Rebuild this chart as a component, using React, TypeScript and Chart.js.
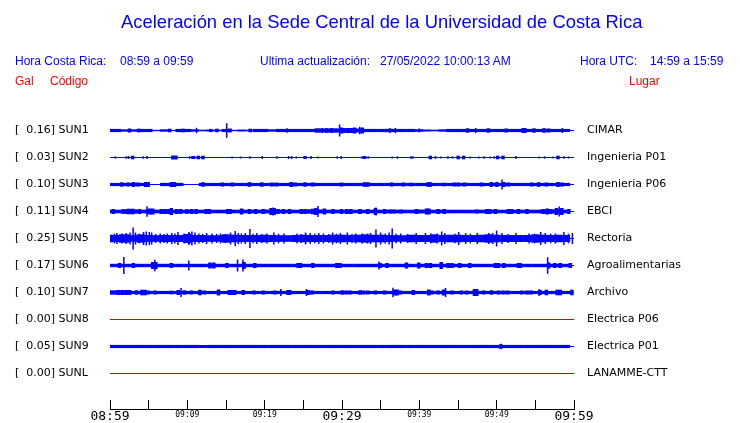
import { useEffect, useRef } from "react";
import { Chart, registerables } from "chart.js";

Chart.register(...registerables);

// ---------------- data ----------------
const stationCodes = ["SUN1", "SUN2", "SUN3", "SUN4", "SUN5", "SUN6", "SUN7", "SUN8", "SUN9", "SUNL"];
const stationPeaks = [0.16, 0.03, 0.1, 0.11, 0.25, 0.17, 0.1, 0.0, 0.05, 0.0];
const stationPlaces = [
  "CIMAR",
  "Ingenieria P01",
  "Ingenieria P06",
  "EBCI",
  "Rectoria",
  "Agroalimentarias",
  "Archivo",
  "Electrica P06",
  "Electrica P01",
  "LANAMME-CTT",
];
const stationOnline = [true, true, true, true, true, true, true, false, true, false];

// minutes since 08:59 (0..60), tick every 5 min
const timeTickLabels = ["08:59", "", "09:09", "", "09:19", "", "09:29", "", "09:39", "", "09:49", "", "09:59"];
const majorTickLabels = ["08:59", "09:29", "09:59"];

// envelope half-amplitude per minute (display units)
const sun1Envelope = [
  1.6, 1.6, 1.2, 1.2, 1.6, 1.6, 0.7, 1.2, 0.6, 1.6, 1.6, 1.2, 0.8, 1.0, 0.8, 1.6, 0.7, 1.0, 0.8, 1.6,
  1.6, 1.2, 1.6, 1.6, 1.6, 1.6, 1.6, 2.2, 2.0, 2.2, 1.8, 2.5, 2.0, 1.6, 1.6, 1.6, 1.7, 1.6, 1.6, 1.6,
  1.3, 1.0, 0.8, 1.2, 1.6, 1.6, 1.6, 1.6, 1.6, 1.6, 1.6, 1.6, 1.6, 1.6, 1.6, 1.6, 1.6, 1.6, 1.6, 1.6,
];
const sun3Envelope = [
  1.6, 1.6, 1.6, 1.6, 1.6, 0.0, 0.0, 1.6, 1.6, 1.6, 0.0, 0.0, 1.6, 1.6, 1.6, 1.6, 1.6, 1.6, 1.6, 1.6,
  1.6, 1.6, 1.6, 1.6, 1.6, 1.6, 1.6, 1.6, 1.6, 1.6, 1.6, 1.6, 1.6, 1.6, 1.6, 1.6, 1.6, 1.6, 1.6, 1.6,
  1.6, 1.6, 1.6, 1.6, 1.6, 1.6, 1.6, 1.6, 1.6, 1.6, 1.6, 1.6, 1.6, 1.6, 1.6, 1.6, 1.6, 1.6, 1.6, 1.6,
];
const sun4Envelope = [
  1.8, 1.8, 2.4, 2.2, 1.8, 2.0, 1.8, 2.0, 1.8, 1.8, 1.8, 1.8, 1.8, 1.8, 1.8, 1.8, 1.8, 1.8, 1.8, 1.8,
  2.0, 1.8, 1.8, 1.8, 1.8, 1.8, 2.2, 2.0, 1.8, 1.8, 1.8, 1.8, 1.8, 1.8, 1.8, 1.8, 1.8, 1.8, 1.8, 1.8,
  2.0, 1.8, 1.8, 1.8, 1.8, 1.8, 1.8, 1.8, 1.8, 1.8, 1.8, 1.8, 1.8, 1.8, 1.8, 1.8, 2.0, 2.2, 2.0, 1.8,
];
const sun5Envelope = [
  3.8, 3.5, 4.2, 3.3, 4.2, 3.5, 3.3, 3.5, 3.5, 3.5, 4.5, 3.5, 3.5, 3.3, 3.3, 4.2, 3.8, 3.5, 3.5, 3.5,
  3.8, 3.5, 3.3, 3.3, 3.5, 3.8, 3.5, 3.5, 3.5, 3.8, 3.8, 3.5, 3.8, 4.2, 3.8, 3.8, 3.5, 3.3, 3.3, 3.8,
  3.5, 3.5, 4.2, 3.5, 3.8, 3.8, 3.5, 3.5, 3.8, 4.2, 3.8, 3.5, 3.5, 3.5, 3.5, 4.2, 3.8, 3.5, 3.8, 3.5,
];
const sun6Envelope = [
  1.7, 1.7, 1.7, 1.7, 1.7, 1.7, 1.7, 1.7, 1.7, 1.7, 1.7, 1.7, 1.7, 1.7, 1.7, 1.7, 1.7, 1.7, 1.7, 1.7,
  1.7, 1.7, 1.7, 1.7, 1.7, 1.7, 1.7, 1.7, 1.7, 1.7, 1.7, 1.7, 1.7, 1.7, 1.7, 1.7, 1.7, 1.7, 1.7, 1.7,
  1.7, 1.7, 1.7, 1.7, 1.7, 1.7, 1.7, 1.7, 1.7, 1.7, 1.7, 1.7, 1.7, 1.7, 1.7, 1.7, 1.7, 1.7, 1.7, 1.7,
];
const sun7Envelope = [
  2.2, 2.2, 2.2, 1.6, 1.6, 1.6, 1.6, 1.6, 1.6, 1.6, 1.6, 1.6, 1.6, 1.6, 1.6, 1.6, 1.6, 1.6, 1.6, 1.6,
  1.6, 1.6, 1.6, 1.6, 1.6, 1.6, 1.6, 1.6, 1.6, 1.6, 1.6, 1.6, 1.6, 1.6, 1.6, 1.6, 1.6, 1.6, 1.6, 1.6,
  1.6, 1.6, 1.6, 1.6, 1.6, 1.6, 1.6, 1.6, 1.6, 1.6, 1.6, 1.6, 1.6, 1.6, 1.6, 1.6, 1.6, 1.6, 1.6, 1.6,
];
const sun9Envelope = [
  1.6, 1.6, 1.6, 1.6, 1.6, 1.6, 1.6, 1.6, 1.6, 1.6, 1.6, 1.6, 1.5, 1.6, 1.6, 1.6, 1.6, 1.6, 1.6, 1.6,
  1.6, 1.6, 1.6, 1.6, 1.6, 1.6, 1.6, 1.6, 1.6, 1.6, 1.6, 1.6, 1.6, 1.6, 1.6, 1.6, 1.6, 1.6, 1.6, 1.6,
  1.6, 1.6, 1.6, 1.6, 1.6, 1.6, 1.6, 1.6, 1.6, 1.6, 1.6, 1.6, 1.6, 1.6, 1.6, 1.6, 1.6, 1.6, 1.6, 1.6,
];

// short bursts [minute, half-amplitude]
const sun1Bursts = [
  [2.3, 2.0], [3.5, 1.8], [7.5, 1.8], [9.2, 1.8], [12.8, 1.6], [13.6, 1.8], [15.3, 2.0], [17.9, 1.8],
  [27.8, 2.3], [28.4, 2.3], [29.7, 3.0], [30.0, 2.5], [31.4, 3.0], [32.4, 3.0], [46.0, 2.2], [48.7, 2.2],
  [51.0, 2.0], [53.4, 2.5], [54.6, 2.2], [55.9, 2.3], [56.5, 2.0],
];
const sun2Bursts = [
  [2.7, 1.8], [7.9, 2.0], [8.3, 2.0], [10.6, 1.5], [11.2, 1.8], [11.8, 1.8], [25.0, 1.5], [32.7, 1.5],
  [38.8, 1.2], [41.2, 1.8], [44.8, 1.8], [45.5, 1.8], [49.9, 1.8], [50.6, 1.8], [57.7, 1.8],
];
const sun3Bursts = [
  [1.3, 2.2], [2.1, 2.0], [2.8, 2.5], [3.4, 2.0], [4.4, 2.5], [4.7, 2.5], [6.85, 1.6], [7.7, 2.5],
  [8.1, 2.5], [11.8, 2.3], [14.3, 2.0], [15.6, 2.0], [17.8, 2.3], [19.4, 2.2], [20.7, 2.0], [21.3, 2.0],
  [23.2, 2.5], [23.7, 2.0], [25.0, 2.2], [26.0, 2.0], [29.7, 2.0], [32.7, 2.3], [33.1, 2.3], [36.2, 2.0],
  [37.7, 2.0], [38.7, 1.8], [40.9, 2.3], [41.2, 2.3], [43.0, 1.8], [44.3, 2.0], [44.8, 2.0], [45.6, 2.0],
  [47.8, 2.0], [49.1, 2.5], [49.8, 2.5], [50.7, 2.5], [51.3, 2.0], [54.3, 2.0], [55.2, 2.3], [56.2, 2.0],
  [57.7, 2.5], [58.2, 2.0],
];
const sun4Bursts = [
  [0.2, 2.5], [2.2, 2.8], [2.7, 2.8], [3.6, 2.5], [4.9, 3.0], [5.3, 3.0], [6.4, 2.5], [6.9, 2.5],
  [7.4, 2.5], [7.7, 3.5], [8.4, 2.5], [8.9, 2.5], [9.7, 2.3], [10.3, 2.5], [10.9, 2.5], [12.2, 2.5],
  [12.6, 2.5], [15.0, 2.5], [15.3, 2.5], [16.8, 3.0], [17.8, 2.5], [18.6, 2.5], [19.6, 2.5], [20.6, 3.5],
  [21.0, 3.5], [21.5, 2.5], [22.2, 2.5], [23.0, 2.5], [24.5, 2.5], [25.0, 2.5], [26.0, 2.8], [26.4, 3.5],
  [27.5, 3.0], [28.6, 2.5], [29.7, 2.5], [30.4, 2.5], [30.9, 2.5], [32.1, 2.5], [33.1, 2.5], [34.1, 3.5],
  [35.3, 2.5], [36.0, 2.0], [36.5, 2.0], [37.4, 2.0], [39.4, 2.5], [40.7, 3.0], [41.0, 3.0], [42.2, 2.5],
  [43.0, 2.5], [47.2, 2.0], [48.5, 2.5], [48.9, 2.5], [49.6, 2.5], [51.3, 2.5], [51.7, 2.5], [52.6, 2.5],
  [53.7, 2.5], [55.8, 2.5], [56.3, 3.0], [56.7, 2.5], [57.5, 3.5], [58.2, 3.5], [59.1, 2.5],
];
const sun6Bursts = [
  [1.0, 2.5], [2.8, 2.5], [5.3, 3.5], [5.7, 3.5], [7.7, 2.5], [12.7, 3.0], [13.2, 3.0], [14.9, 2.5],
  [17.1, 3.5], [18.5, 2.5], [24.1, 2.5], [24.4, 2.5], [26.0, 2.5], [29.1, 2.5], [29.5, 2.5], [34.7, 2.5],
  [35.6, 2.5], [38.1, 3.0], [39.7, 3.0], [40.7, 2.5], [41.2, 2.5], [42.6, 3.5], [43.5, 2.5], [44.0, 2.5],
  [45.0, 2.5], [46.3, 2.5], [49.6, 2.5], [50.0, 2.5], [50.7, 2.5], [52.6, 2.5], [52.8, 2.5], [56.5, 3.0],
  [57.3, 2.5], [58.0, 2.5], [59.3, 2.5],
];
const sun7Bursts = [
  [0.9, 2.5], [1.4, 2.5], [1.9, 2.5], [2.3, 2.5], [3.2, 2.2], [3.9, 2.8], [4.3, 2.8], [4.7, 2.0],
  [5.6, 2.0], [7.7, 1.8], [8.6, 2.5], [9.4, 2.2], [10.3, 2.0], [11.4, 2.8], [12.0, 2.0], [13.8, 3.0],
  [15.2, 2.5], [15.6, 2.5], [15.9, 2.5], [17.0, 2.5], [18.4, 2.0], [19.6, 2.0], [21.1, 2.0], [22.8, 2.5],
  [23.0, 2.5], [25.4, 2.5], [25.9, 2.0], [28.6, 2.0], [29.8, 2.2], [30.3, 2.0], [30.8, 2.0], [32.1, 2.2],
  [32.5, 2.0], [33.1, 2.0], [34.1, 2.0], [35.3, 2.0], [36.6, 3.0], [36.9, 3.0], [37.3, 2.0], [39.0, 2.5],
  [41.0, 3.0], [41.4, 2.0], [42.2, 2.0], [42.9, 3.0], [44.0, 2.0], [45.2, 2.0], [45.9, 2.0], [46.9, 3.5],
  [47.2, 3.5], [48.1, 2.0], [49.1, 2.2], [50.0, 2.0], [50.6, 2.0], [51.2, 2.0], [53.0, 2.0], [53.7, 2.0],
  [54.2, 2.0], [55.4, 2.5], [56.2, 2.8], [57.6, 2.8], [58.0, 2.8], [59.5, 2.8],
];
const sun9Bursts = [[50.3, 2.2]];

// single-sample spikes [minute, half-amplitude]
const sun1Spikes = [
  [10.9, 2.7], [14.8, 7.3], [22.6, 2.2], [27.2, 2.5], [29.4, 6.0], [32.0, 3.8], [35.9, 2.5], [36.6, 2.5],
  [39.7, 2.0], [47.0, 2.5], [53.0, 2.5], [58.2, 2.5],
];
const sun2Spikes = [
  [0.4, 1.2], [1.8, 1.2], [2.1, 1.5], [4.0, 1.2], [4.5, 1.5], [10.0, 1.3], [10.3, 1.5], [15.5, 1.0],
  [16.6, 1.0], [17.8, 1.2], [19.4, 1.5], [21.3, 1.2], [22.8, 1.5], [23.2, 1.5], [23.8, 1.0], [25.7, 1.5],
  [26.6, 1.0], [29.1, 1.2], [29.6, 1.5], [32.3, 1.2], [33.1, 1.2], [36.2, 1.0], [36.9, 1.2], [41.8, 1.5],
  [42.5, 1.0], [43.4, 1.2], [44.0, 1.2], [46.3, 1.0], [47.4, 1.0], [48.1, 1.2], [48.9, 1.0], [49.4, 1.2],
  [52.2, 1.5], [55.2, 1.0], [55.9, 1.2], [57.0, 1.0], [58.4, 1.2], [59.0, 1.0],
];
const sun3Spikes = [[50.4, 5.0]];
const sun4Spikes = [[4.5, 5.3], [20.8, 4.0], [26.6, 5.5], [34.1, 4.0], [57.8, 5.0]];
const sun5Spikes = [
  [2.7, 11.0], [4.4, 7.0], [10.3, 7.0], [15.9, 7.5], [17.8, 9.5], [34.1, 9.0], [36.2, 10.0], [42.6, 7.0],
  [49.7, 8.0],
  [0.6, 5.5], [1.25, 5.0], [1.8, 5.5], [2.3, 6.0], [3.0, 6.0], [4.05, 6.5], [4.8, 6.5], [5.1, 6.0],
  [6.2, 5.0], [7.1, 5.0], [7.7, 5.5], [8.5, 6.5], [9.3, 5.0], [9.9, 6.5], [10.7, 6.0], [11.2, 5.0],
  [12.2, 5.5], [12.9, 5.0], [14.0, 5.0], [15.3, 6.0], [16.3, 5.5], [17.2, 5.5], [18.7, 5.5], [20.0, 5.0],
  [20.9, 6.0], [22.2, 5.0], [23.9, 5.0], [25.0, 6.0], [25.6, 5.5], [26.7, 5.5], [27.3, 5.0], [28.5, 6.0],
  [29.5, 5.5], [30.4, 6.0], [31.5, 5.0], [32.3, 5.0], [33.4, 5.5], [34.7, 6.0], [35.8, 6.0], [37.3, 5.0],
  [39.3, 5.5], [40.5, 5.5], [43.0, 5.5], [44.8, 6.5], [45.7, 5.5], [47.2, 5.5], [48.7, 5.5], [50.4, 5.5],
  [52.2, 5.5], [53.9, 5.0], [55.4, 6.5], [56.0, 5.5], [57.3, 5.0], [58.4, 6.5], [59.5, 5.5],
  [0.3, 4.8], [1.0, 4.5], [3.5, 4.8], [5.6, 4.5], [6.7, 4.5], [8.1, 5.0], [10.0, 5.5], [11.7, 4.5],
  [13.5, 4.5], [14.6, 4.5], [16.7, 5.0], [18.2, 4.8], [19.3, 4.5], [21.5, 4.8], [24.4, 4.5], [26.2, 4.8],
  [28.0, 4.5], [29.0, 4.8], [31.0, 4.5], [33.0, 5.0], [35.3, 5.0], [36.7, 4.8], [38.2, 4.5], [41.2, 5.0],
  [42.0, 5.0], [44.3, 4.8], [46.3, 4.8], [49.2, 5.5], [51.2, 4.5], [54.6, 4.8], [56.7, 4.8], [59.0, 4.8],
];
const sun6Spikes = [[1.5, 8.5], [5.5, 5.8], [9.9, 5.0], [16.2, 6.0], [16.9, 6.0], [34.5, 4.0], [56.3, 8.3]];
const sun7Spikes = [[8.9, 4.5], [21.8, 3.5], [25.1, 3.5], [36.3, 4.7], [43.1, 4.5], [55.2, 3.5]];
const sun9Spikes = [[50.3, 2.8]];

const stationEnvelopes = [sun1Envelope, null, sun3Envelope, sun4Envelope, sun5Envelope, sun6Envelope, sun7Envelope, null, sun9Envelope, null];
const stationBursts = [sun1Bursts, sun2Bursts, sun3Bursts, sun4Bursts, null, sun6Bursts, sun7Bursts, null, sun9Bursts, null];
const stationSpikes = [sun1Spikes, sun2Spikes, sun3Spikes, sun4Spikes, sun5Spikes, sun6Spikes, sun7Spikes, null, sun9Spikes, null];

// ---------------- presentation ----------------
const ROW_STEP = 27;
const BLUE = "#0000ff";
const RED = "#dd0000";

function buildDatasets() {
  const ds: any[] = [];
  const env: any[] = [];
  const bursts: any[] = [];
  const spikes: any[] = [];
  stationCodes.forEach((_, i) => {
    const c = i * ROW_STEP;
    const color = stationOnline[i] ? BLUE : RED;
    ds.push({
      type: "line",
      xAxisID: "x",
      data: [
        { x: 0, y: c },
        { x: 60, y: c },
      ],
      borderColor: color,
      borderWidth: 1,
      pointRadius: 0,
      fill: false,
      order: 3,
    });
    (stationEnvelopes[i] || []).forEach((a, m) => env.push({ x: m + 0.5, y: [c - a, c + a] }));
    (stationBursts[i] || []).forEach(([m, a]) => bursts.push({ x: m, y: [c - a, c + a] }));
    (stationSpikes[i] || []).forEach(([m, a]) => spikes.push({ x: m, y: [c - a, c + a] }));
  });
  ds.push({ type: "bar", xAxisID: "xEnv", data: env, backgroundColor: BLUE, barThickness: 8, order: 2 });
  ds.push({ type: "bar", xAxisID: "xBurst", data: bursts, backgroundColor: BLUE, barThickness: 3.5, order: 1 });
  ds.push({ type: "bar", xAxisID: "xSpike", data: spikes, backgroundColor: BLUE, barThickness: 1.5, order: 0 });
  return ds;
}

function rowTicks(scale: any) {
  scale.ticks = stationCodes.map((_, i) => ({ value: i * ROW_STEP }));
}
function noPad(s: any) {
  s.paddingTop = 0;
  s.paddingBottom = 0;
  s.paddingLeft = 0;
  s.paddingRight = 0;
}
const hiddenX = { type: "linear", display: false, min: 0, max: 60, offset: false, grid: { offset: false } };

export default function App() {
  const ref = useRef<HTMLCanvasElement | null>(null);

  useEffect(() => {
    if (!ref.current) return;
    const chart = new Chart(ref.current, {
      type: "bar",
      data: { datasets: buildDatasets() },
      options: {
        animation: false,
        responsive: false,
        events: [],
        layout: { padding: { left: 15, right: 0, top: 116, bottom: 0 } },
        datasets: { bar: { grouped: true, borderWidth: 0, inflateAmount: 0 } } as any,
        plugins: { legend: { display: false }, tooltip: { enabled: false }, title: { display: false } },
        scales: {
          x: {
            type: "linear",
            min: 0,
            max: 60,
            offset: false,
            position: "bottom",
            grid: { display: true, drawOnChartArea: false, drawTicks: true, tickLength: -9, color: "#000", offset: false },
            border: { display: true, color: "#000", width: 1 },
            ticks: {
              stepSize: 5,
              autoSkip: false,
              maxRotation: 0,
              padding: 9,
              color: "#000",
              callback: (_v: any, idx: number) => timeTickLabels[idx] ?? "",
              font: (ctx: any) => {
                const lbl = timeTickLabels[ctx.index] ?? "";
                return majorTickLabels.includes(lbl)
                  ? { family: "'DejaVu Sans Mono', monospace", size: 13, lineHeight: 1.1 }
                  : { family: "'DejaVu Sans Mono', monospace", size: 8, lineHeight: 1.5 };
              },
            },
            afterFit: (s: any) => {
              s.height = 14;
              noPad(s);
            },
          } as any,
          xEnv: hiddenX as any,
          xBurst: hiddenX as any,
          xSpike: hiddenX as any,
          y: {
            type: "linear",
            position: "left",
            reverse: true,
            min: -14.5,
            max: 278.5,
            grid: { display: false, drawTicks: false },
            border: { display: false },
            afterBuildTicks: rowTicks,
            ticks: {
              autoSkip: false,
              crossAlign: "far",
              color: "#000",
              font: { family: "'DejaVu Sans', sans-serif", size: 11 },
              callback: (_v: any, idx: number) => `[  ${stationPeaks[idx].toFixed(2)}] ${stationCodes[idx]}`,
            },
            afterFit: (s: any) => {
              s.width = 95;
              noPad(s);
            },
          } as any,
          y2: {
            type: "linear",
            position: "right",
            reverse: true,
            min: -14.5,
            max: 278.5,
            grid: { display: false, drawTicks: false },
            border: { display: false },
            afterBuildTicks: rowTicks,
            ticks: {
              autoSkip: false,
              padding: 13,
              color: "#000",
              font: { family: "'DejaVu Sans', sans-serif", size: 11 },
              callback: (_v: any, idx: number) => stationPlaces[idx],
            },
            afterFit: (s: any) => {
              s.width = 166;
              noPad(s);
            },
          } as any,
        },
      },
    });
    return () => chart.destroy();
  }, []);

  const txt = (left: number, top: number, size: number, color: string, text: string) => (
    <span
      style={{
        position: "absolute",
        left,
        top,
        fontSize: size,
        lineHeight: `${size}px`,
        color,
        whiteSpace: "pre",
        fontFamily: "'Liberation Sans', Arial, sans-serif",
      }}
    >
      {text}
    </span>
  );

  return (
    <div style={{ position: "absolute", left: 0, top: 0, width: 740, height: 423, background: "#fff", overflow: "hidden" }}>
      <canvas ref={ref} width={740} height={423} style={{ position: "absolute", left: 0, top: 0 }} />
      {txt(121, 13, 18.4, BLUE, "Aceleración en la Sede Central de la Universidad de Costa Rica")}
      {txt(15, 55, 12, BLUE, "Hora Costa Rica:")}
      {txt(120, 55, 12, BLUE, "08:59 a 09:59")}
      {txt(260, 55, 12, BLUE, "Ultima actualización:")}
      {txt(380, 55, 12, BLUE, "27/05/2022 10:00:13 AM")}
      {txt(580, 55, 12, BLUE, "Hora UTC:")}
      {txt(650, 55, 12, BLUE, "14:59 a 15:59")}
      {txt(15, 75, 12, "#ff0000", "Gal")}
      {txt(50, 75, 12, "#ff0000", "Código")}
      {txt(629, 75, 12, "#ff0000", "Lugar")}
    </div>
  );
}
